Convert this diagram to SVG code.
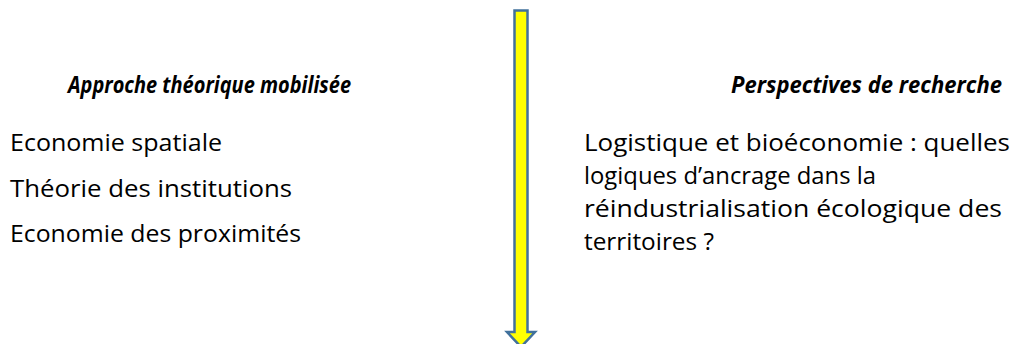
<svg xmlns="http://www.w3.org/2000/svg" width="1012" height="344" viewBox="0 0 1012 344">
<style>
text{font-family:"Open Sans","Noto Sans",sans-serif;font-size:23px;fill:#000}
.h{font-weight:bold;font-style:italic;font-size:24px}
</style>
<rect width="1012" height="344" fill="#fff"/>
<g id="connectors">
<path d="M514.5,10.5 H527.5 V332 H535 L521,347 L507,332 H514.5 Z" fill="#ffff00" stroke="#41719c" stroke-width="2.5"/>
</g>
<g id="left">
<text class="h" x="68" y="93" textLength="283" lengthAdjust="spacingAndGlyphs">Approche théorique mobilisée</text>
<text x="10" y="151" textLength="212" lengthAdjust="spacingAndGlyphs">Economie spatiale</text>
<text x="10" y="197" textLength="282" lengthAdjust="spacingAndGlyphs">Théorie des institutions</text>
<text x="10" y="242" textLength="291" lengthAdjust="spacingAndGlyphs">Economie des proximités</text>
</g>
<g id="right">
<text class="h" x="731" y="93" textLength="271" lengthAdjust="spacingAndGlyphs">Perspectives de recherche</text>
<text x="584" y="151" textLength="426" lengthAdjust="spacingAndGlyphs">Logistique et bioéconomie : quelles</text>
<text x="584" y="184" textLength="292" lengthAdjust="spacingAndGlyphs">logiques d’ancrage dans la</text>
<text x="584" y="217" textLength="418" lengthAdjust="spacingAndGlyphs">réindustrialisation écologique des</text>
<text x="584" y="250" textLength="130" lengthAdjust="spacingAndGlyphs">territoires ?</text>
</g>
</svg>
